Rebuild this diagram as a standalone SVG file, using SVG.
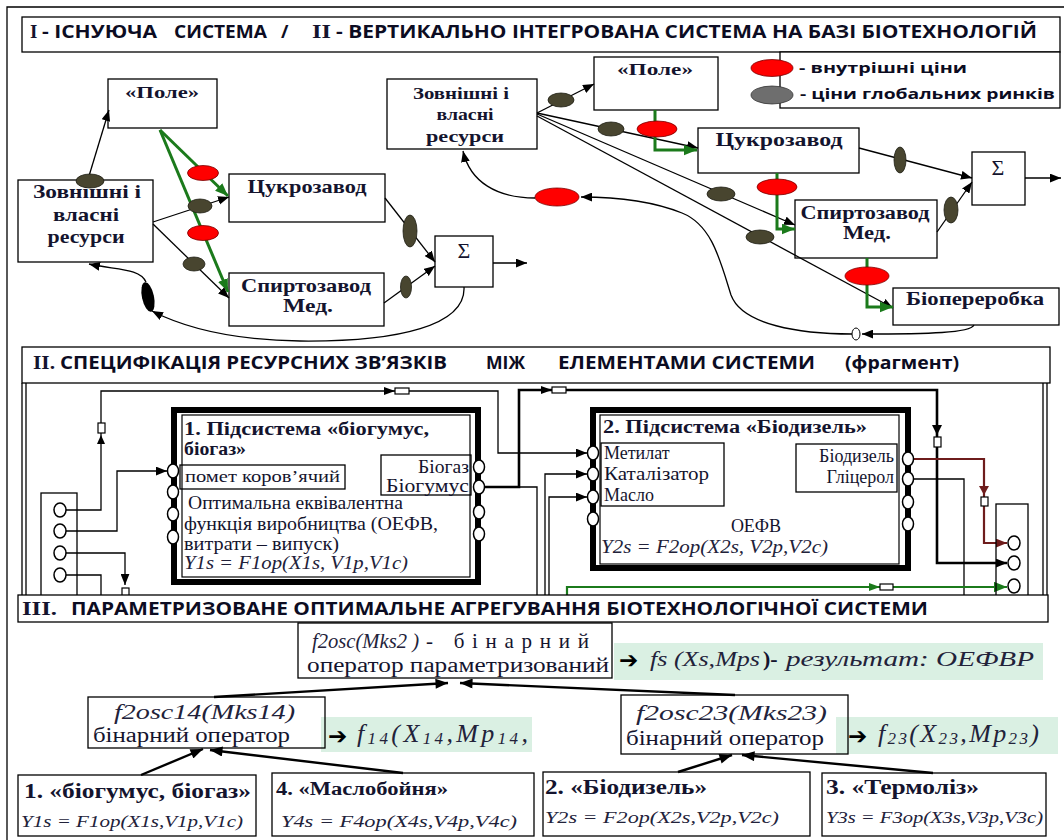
<svg xmlns="http://www.w3.org/2000/svg" width="1064" height="840" viewBox="0 0 1064 840">
<defs>
<style>
.bx{fill:#fff;stroke:#000;stroke-width:1.3}
.bxn{fill:none;stroke:#000;stroke-width:1.3}
.sb{font-family:"Liberation Serif","DejaVu Serif",serif;font-weight:bold;fill:#14142e}
.sr{font-family:"Liberation Serif","DejaVu Serif",serif;fill:#14142e}
.si{font-family:"Liberation Serif","DejaVu Serif",serif;font-style:italic;fill:#22223a}
.hb{font-family:"Open Sans","Noto Sans","DejaVu Sans",sans-serif;font-weight:bold;fill:#0c0c22}
.ar{font-family:"DejaVu Sans",sans-serif;font-weight:bold;fill:#000}
.ln{fill:none;stroke:#000;stroke-width:1.3}
.lnt{fill:none;stroke:#000;stroke-width:2.6}
.lnb{fill:none;stroke:#000;stroke-width:2.4}
.gr{fill:none;stroke:#1b7a1b;stroke-width:3}
.grt{fill:none;stroke:#1b7a1b;stroke-width:2.2}
.brn{fill:none;stroke:#6e1c1c;stroke-width:2.2}
.red{fill:#ff0000;stroke:#7a0000;stroke-width:0.8}
.dk{fill:#48452f;stroke:#1e1e14;stroke-width:0.8}
.port{fill:#fff;stroke:#000;stroke-width:1.5}
.tag{fill:#fff;stroke:#000;stroke-width:1.2}
.band{fill:#daf0e3}
</style>
<marker id="ab" viewBox="0 0 10 8" refX="10" refY="4" markerWidth="11" markerHeight="9" markerUnits="userSpaceOnUse" orient="auto"><path d="M0,0 L10,4 L0,8 z" fill="#000"/></marker>
<marker id="abL" viewBox="0 0 10 8" refX="10" refY="4" markerWidth="14" markerHeight="10" markerUnits="userSpaceOnUse" orient="auto"><path d="M0,0 L10,4 L0,8 z" fill="#000"/></marker>
<marker id="ag" viewBox="0 0 10 8" refX="10" refY="4" markerWidth="13" markerHeight="11" markerUnits="userSpaceOnUse" orient="auto"><path d="M0,0 L10,4 L0,8 z" fill="#1b7a1b"/></marker>
<marker id="abr" viewBox="0 0 10 8" refX="10" refY="4" markerWidth="11" markerHeight="9" markerUnits="userSpaceOnUse" orient="auto"><path d="M0,0 L10,4 L0,8 z" fill="#6e1c1c"/></marker>
</defs>
<rect x="0" y="0" width="1064" height="840" fill="#fff"/>

<g id="frame">
<path d="M7,840 V7 H1064" class="ln"/>
<rect class="bx" x="22" y="17" width="1038" height="35"/>
<text class="sb" x="30" y="38" font-size="19">I</text>
<text class="hb" x="42" y="38" font-size="18" textLength="115" lengthAdjust="spacingAndGlyphs">- ІСНУЮЧА</text>
<text class="hb" x="174" y="38" font-size="18" textLength="93" lengthAdjust="spacingAndGlyphs">СИСТЕМА</text>
<text class="hb" x="281" y="38" font-size="18">/</text>
<text class="sb" x="312" y="38" font-size="19" textLength="19" lengthAdjust="spacingAndGlyphs">II</text>
<text class="hb" x="336" y="38" font-size="18" textLength="701" lengthAdjust="spacingAndGlyphs">- ВЕРТИКАЛЬНО ІНТЕГРОВАНА СИСТЕМА НА БАЗІ БІОТЕХНОЛОГІЙ</text>
</g>

<g id="legend">
<rect class="bx" x="780" y="52" width="280" height="56"/>
<ellipse class="red" cx="772" cy="68" rx="21" ry="8.5"/>
<ellipse cx="772" cy="95" rx="21" ry="9" fill="#6e6e6e" stroke="#333" stroke-width="0.8"/>
<text class="hb" x="799" y="73" font-size="15" textLength="168" lengthAdjust="spacingAndGlyphs">-  внутрішні ціни</text>
<text class="hb" x="800" y="99" font-size="15" textLength="255" lengthAdjust="spacingAndGlyphs">- ціни глобальних ринків</text>
</g>

<!-- Section I : existing system -->
<g id="n-pole-1"><rect class="bx" x="108" y="79" width="109" height="49"/><text class="sb" x="162" y="98" font-size="17" text-anchor="middle" textLength="74" lengthAdjust="spacingAndGlyphs">«Поле»</text></g>
<g id="n-res-1"><rect class="bx" x="18" y="180" width="135" height="82"/>
<text class="sb" x="87" y="198" font-size="19" text-anchor="middle" textLength="108" lengthAdjust="spacingAndGlyphs">Зовнішні  і</text>
<text class="sb" x="86" y="221" font-size="19" text-anchor="middle" textLength="66" lengthAdjust="spacingAndGlyphs">власні</text>
<text class="sb" x="86" y="243" font-size="19" text-anchor="middle" textLength="77" lengthAdjust="spacingAndGlyphs">ресурси</text></g>
<g id="n-sugar-1"><rect class="bx" x="229" y="174" width="156" height="48"/><text class="sb" x="307" y="193" font-size="19" text-anchor="middle" textLength="119" lengthAdjust="spacingAndGlyphs">Цукрозавод</text></g>
<g id="n-spirit-1"><rect class="bx" x="229" y="273" width="155" height="53"/>
<text class="sb" x="306" y="292" font-size="19" text-anchor="middle" textLength="130" lengthAdjust="spacingAndGlyphs">Спиртозавод</text>
<text class="sb" x="308" y="312" font-size="19" text-anchor="middle" textLength="50" lengthAdjust="spacingAndGlyphs">Мед.</text></g>
<g id="n-sum-1"><rect class="bx" x="435" y="236" width="58" height="51"/><text class="sr" x="464" y="258" font-size="22" text-anchor="middle">Σ</text></g>

<!-- Section I : integrated system -->
<g id="n-res-2"><rect class="bx" x="387" y="79" width="150" height="70"/>
<text class="sb" x="461" y="99" font-size="17" text-anchor="middle" textLength="96" lengthAdjust="spacingAndGlyphs">Зовнішні і</text>
<text class="sb" x="465" y="120" font-size="17" text-anchor="middle" textLength="57" lengthAdjust="spacingAndGlyphs">власні</text>
<text class="sb" x="465" y="142" font-size="17" text-anchor="middle" textLength="78" lengthAdjust="spacingAndGlyphs">ресурси</text></g>
<g id="n-pole-2"><rect class="bx" x="594" y="57" width="124" height="53"/><text class="sb" x="655" y="75" font-size="16" text-anchor="middle" textLength="76" lengthAdjust="spacingAndGlyphs">«Поле»</text></g>
<g id="n-sugar-2"><rect class="bx" x="698" y="128" width="161" height="45"/><text class="sb" x="779" y="146" font-size="18" text-anchor="middle" textLength="127" lengthAdjust="spacingAndGlyphs">Цукрозавод</text></g>
<g id="n-spirit-2"><rect class="bx" x="795" y="200" width="142" height="58"/>
<text class="sb" x="865" y="219" font-size="18" text-anchor="middle" textLength="129" lengthAdjust="spacingAndGlyphs">Спиртозавод</text>
<text class="sb" x="867" y="239" font-size="18" text-anchor="middle" textLength="48" lengthAdjust="spacingAndGlyphs">Мед.</text></g>
<g id="n-bio-2"><rect class="bx" x="893" y="288" width="166" height="37"/><text class="sb" x="975" y="305" font-size="18" text-anchor="middle" textLength="138" lengthAdjust="spacingAndGlyphs">Біопереробка</text></g>
<g id="n-sum-2"><rect class="bx" x="972" y="152" width="53" height="53"/><text class="sr" x="998" y="175" font-size="22" text-anchor="middle">Σ</text></g>

<g id="connectors-1">
<path class="ln" d="M89,176 L109,110" marker-end="url(#ab)"/>
<ellipse class="dk" cx="90" cy="181" rx="14" ry="7"/>
<path class="gr" d="M160,130 L228,196" marker-end="url(#ag)"/>
<path class="gr" d="M160,130 L228,292" marker-end="url(#ag)"/>
<path class="ln" d="M153,222 L229,197" marker-end="url(#ab)"/>
<path class="ln" d="M153,224 L229,298" marker-end="url(#ab)"/>
<ellipse class="red" cx="203" cy="173" rx="15.5" ry="7.5"/>
<ellipse class="red" cx="203" cy="233" rx="15.5" ry="7.5"/>
<ellipse class="dk" cx="200" cy="206" rx="12" ry="7"/>
<ellipse class="dk" cx="194" cy="264" rx="11" ry="7"/>
<path class="ln" d="M385,198 L435,262" marker-end="url(#ab)"/>
<path class="ln" d="M384,303 L435,266" marker-end="url(#ab)"/>
<ellipse class="dk" cx="410" cy="231" rx="7" ry="16"/>
<ellipse class="dk" cx="406" cy="287" rx="5.5" ry="11"/>
<path class="ln" d="M493,263 H527" marker-end="url(#ab)"/>
<path class="ln" d="M464,287 C466,325 400,342 300,341 C232,340 185,328 152,311" marker-end="url(#ab)"/>
<ellipse cx="148" cy="297" rx="6" ry="15" fill="#000" transform="rotate(-12 148 297)"/>
<path class="ln" d="M146,282 C140,268 116,270 89,264" marker-end="url(#ab)"/>
<path class="ln" d="M537,113 L594,84" marker-end="url(#ab)"/>
<path class="ln" d="M537,113 L698,148" marker-end="url(#ab)"/>
<path class="ln" d="M537,114 L795,225" marker-end="url(#ab)"/>
<path class="ln" d="M537,116 L893,308" marker-end="url(#ab)"/>
<ellipse class="dk" cx="561" cy="100" rx="13" ry="7"/>
<ellipse class="dk" cx="611" cy="129" rx="13" ry="7"/>
<ellipse class="dk" cx="721" cy="194" rx="14" ry="7"/>
<ellipse class="dk" cx="760" cy="237" rx="14" ry="7"/>
<path class="gr" d="M655,110 V150 H697" marker-end="url(#ag)"/>
<path class="gr" d="M777,173 V229 H795" marker-end="url(#ag)"/>
<path class="gr" d="M867,258 V307 H893" marker-end="url(#ag)"/>
<ellipse class="red" cx="657" cy="129" rx="20" ry="8"/>
<ellipse class="red" cx="777" cy="187" rx="20" ry="8"/>
<ellipse class="red" cx="867" cy="276" rx="22" ry="9"/>
<path class="ln" d="M859,148 L972,178" marker-end="url(#ab)"/>
<path class="ln" d="M937,232 L972,182" marker-end="url(#ab)"/>
<ellipse class="dk" cx="900" cy="160" rx="6" ry="13"/>
<ellipse class="dk" cx="951" cy="210" rx="7" ry="13"/>
<path class="ln" d="M1025,178 H1061" marker-end="url(#ab)"/>
<path class="ln" d="M974,325 C970,333 930,334 862,334" marker-end="url(#ab)"/>
<ellipse cx="856" cy="334" rx="4" ry="6" fill="#fff" stroke="#000" stroke-width="1"/>
<path class="ln" d="M852,334 C800,334 742,325 731,295 C720,260 712,225 682,213 C652,201 620,197 581,197" marker-end="url(#ab)"/>
<ellipse class="red" cx="557" cy="197" rx="22" ry="9"/>
<path class="ln" d="M535,198 C497,198 470,182 463,151" marker-end="url(#ab)"/>
</g>

<!-- Section II -->
<g id="title-2">
<rect class="bx" x="22" y="347" width="1028" height="36"/>
<text class="sb" x="33" y="369" font-size="18" textLength="22" lengthAdjust="spacingAndGlyphs">II.</text>
<text class="hb" x="60" y="369" font-size="17" textLength="387" lengthAdjust="spacingAndGlyphs">СПЕЦИФІКАЦІЯ РЕСУРСНИХ ЗВ’ЯЗКІВ</text>
<text class="hb" x="486" y="369" font-size="17" textLength="39" lengthAdjust="spacingAndGlyphs">МІЖ</text>
<text class="hb" x="558" y="369" font-size="17" textLength="257" lengthAdjust="spacingAndGlyphs">ЕЛЕМЕНТАМИ СИСТЕМИ</text>
<text class="hb" x="845" y="369" font-size="17" textLength="114" lengthAdjust="spacingAndGlyphs">(фрагмент)</text>
<path class="ln" d="M22,383 V597 M26,383 V597 M1043,383 V597 M1047,383 V597"/>
</g>

<g id="connectors-2">
<path class="ln" d="M66,510 H101 V391 H498 V453 H587" marker-end="url(#ab)"/>
<polygon points="101,435 97,444 105,444" fill="#000"/>
<rect class="tag" x="98" y="423" width="7" height="10"/>
<polygon points="395,391 384,387 384,395" fill="#000"/>
<rect class="tag" x="395" y="388" width="14" height="6"/>
<path class="ln" d="M66,531 H117 V471 H167" marker-end="url(#ab)"/>
<path class="ln" d="M66,553 H125 V585" marker-end="url(#ab)"/>
<rect class="tag" x="122" y="588" width="7" height="9"/>
<path class="ln" d="M66,575 H101 V600"/>
<path class="lnt" d="M484,487 H519 V390 H937 V563 H1007" marker-end="url(#ab)"/>
<polygon points="552,390 541,386 541,394" fill="#000"/>
<rect class="tag" x="552" y="387" width="14" height="6"/>
<polygon points="937,435 932,425 942,425" fill="#000"/>
<rect class="tag" x="934" y="437" width="7" height="10"/>
<path class="ln" d="M519,487 H537 V600"/>
<path class="ln" d="M545,600 V474 H587" marker-end="url(#ab)"/>
<path class="ln" d="M549,600 V497 H587" marker-end="url(#ab)"/>
<path class="brn" d="M913,459 H984 V543 H1007" marker-end="url(#abr)"/>
<polygon points="984,495 979,486 989,486" fill="#6e1c1c"/>
<rect class="tag" x="981" y="497" width="7" height="9"/>
<path class="ln" d="M913,479 H964 V600"/>
<path class="grt" d="M567,600 V587 H1007" marker-end="url(#ag)"/>
<polygon points="880,587 869,583 869,591" fill="#1b7a1b"/>
<rect class="tag" x="880" y="584" width="13" height="6"/>
</g>

<g id="n-inputs">
<rect class="bxn" x="41" y="493" width="36" height="107"/>
<ellipse class="port" cx="60" cy="510" rx="6" ry="7"/>
<ellipse class="port" cx="60" cy="531" rx="6" ry="7"/>
<ellipse class="port" cx="60" cy="553" rx="6" ry="7"/>
<ellipse class="port" cx="60" cy="575" rx="6" ry="7"/>
</g>

<g id="n-sub1">
<rect x="174" y="410" width="304" height="172" fill="#fff" stroke="#000" stroke-width="6"/>
<rect x="182" y="415" width="288" height="162" fill="none" stroke="#000" stroke-width="1.2"/>
<text class="sb" x="184" y="435" font-size="18" textLength="245" lengthAdjust="spacingAndGlyphs">1. Підсистема  «біогумус,</text>
<text class="sb" x="184" y="455" font-size="18" textLength="62" lengthAdjust="spacingAndGlyphs">біогаз»</text>
<rect class="bxn" x="180" y="465" width="165" height="24"/>
<text class="sr" x="185" y="482" font-size="17" textLength="155" lengthAdjust="spacingAndGlyphs">помет коров’ячий</text>
<rect class="bxn" x="381" y="455" width="90" height="40"/>
<text class="sr" x="469" y="473" font-size="18" text-anchor="end" textLength="51" lengthAdjust="spacingAndGlyphs">Біогаз</text>
<text class="sr" x="469" y="492" font-size="18" text-anchor="end" textLength="83" lengthAdjust="spacingAndGlyphs">Біогумус</text>
<text class="sr" x="188" y="509" font-size="18" textLength="215" lengthAdjust="spacingAndGlyphs">Оптимальна еквівалентна</text>
<text class="sr" x="184" y="530" font-size="18" textLength="254" lengthAdjust="spacingAndGlyphs">функція виробництва (ОЕФВ,</text>
<text class="sr" x="184" y="550" font-size="18" textLength="155" lengthAdjust="spacingAndGlyphs">витрати – випуск)</text>
<text class="si" x="184" y="569" font-size="18" textLength="224" lengthAdjust="spacingAndGlyphs">Y1s = F1op(X1s, V1p,V1c)</text>
<ellipse class="port" cx="173" cy="471" rx="5.5" ry="7"/>
<ellipse class="port" cx="173" cy="492" rx="5.5" ry="7"/>
<ellipse class="port" cx="173" cy="514" rx="5.5" ry="7"/>
<ellipse class="port" cx="173" cy="537" rx="5.5" ry="7"/>
<ellipse class="port" cx="479" cy="467" rx="5.5" ry="7"/>
<ellipse class="port" cx="479" cy="487" rx="5.5" ry="7"/>
<ellipse class="port" cx="479" cy="512" rx="5.5" ry="7"/>
<ellipse class="port" cx="479" cy="534" rx="5.5" ry="7"/>
</g>

<g id="n-sub2">
<rect x="593" y="410" width="315" height="158" fill="#fff" stroke="#000" stroke-width="6"/>
<rect x="600" y="415" width="299" height="149" fill="none" stroke="#000" stroke-width="1.2"/>
<text class="sb" x="603" y="433" font-size="18" textLength="264" lengthAdjust="spacingAndGlyphs">2. Підсистема  «Біодизель»</text>
<rect class="bxn" x="601" y="443" width="123" height="63"/>
<text class="sr" x="604" y="459" font-size="18">Метилат</text>
<text class="sr" x="604" y="480" font-size="18" textLength="105" lengthAdjust="spacingAndGlyphs">Каталізатор</text>
<text class="sr" x="604" y="501" font-size="18">Масло</text>
<rect class="bxn" x="796" y="444" width="101" height="48"/>
<text class="sr" x="894" y="462" font-size="18" text-anchor="end">Біодизель</text>
<text class="sr" x="894" y="483" font-size="18" text-anchor="end">Гліцерол</text>
<text class="sr" x="756" y="532" font-size="18" text-anchor="middle">ОЕФВ</text>
<text class="si" x="601" y="553" font-size="18" textLength="227" lengthAdjust="spacingAndGlyphs">Y2s = F2op(X2s, V2p,V2c)</text>
<ellipse class="port" cx="593" cy="453" rx="5.5" ry="7"/>
<ellipse class="port" cx="593" cy="474" rx="5.5" ry="7"/>
<ellipse class="port" cx="593" cy="497" rx="5.5" ry="7"/>
<ellipse class="port" cx="593" cy="519" rx="5.5" ry="7"/>
<ellipse class="port" cx="908" cy="459" rx="5.5" ry="7"/>
<ellipse class="port" cx="908" cy="479" rx="5.5" ry="7"/>
<ellipse class="port" cx="908" cy="502" rx="5.5" ry="7"/>
<ellipse class="port" cx="908" cy="524" rx="5.5" ry="7"/>
</g>

<g id="n-outputs">
<rect class="bxn" x="996" y="504" width="32" height="96"/>
<ellipse class="port" cx="1014" cy="543" rx="6" ry="7"/>
<ellipse class="port" cx="1014" cy="563" rx="6" ry="7"/>
<ellipse class="port" cx="1014" cy="586" rx="6" ry="7"/>
</g>

<!-- Section III -->
<g id="title-3">
<rect class="bx" x="18" y="595" width="1030" height="27"/>
<text class="sb" x="22" y="615" font-size="18" textLength="35" lengthAdjust="spacingAndGlyphs">III.</text>
<text class="hb" x="71" y="615" font-size="17" textLength="857" lengthAdjust="spacingAndGlyphs">ПАРАМЕТРИЗОВАНЕ ОПТИМАЛЬНЕ АГРЕГУВАННЯ БІОТЕХНОЛОГІЧНОЇ СИСТЕМИ</text>
</g>

<g id="n-f2osc">
<rect class="bx" x="298" y="623" width="314" height="55"/>
<text class="si" x="312" y="648" font-size="22" textLength="107" lengthAdjust="spacingAndGlyphs">f2osc(Mks2 )</text>
<text class="sr" x="426" y="648" font-size="21" textLength="163" lengthAdjust="spacing">- бінарний</text>
<text class="sr" x="307" y="672" font-size="20" textLength="302" lengthAdjust="spacingAndGlyphs">оператор параметризований</text>
</g>
<g id="r-fs">
<rect class="band" x="614" y="643" width="429" height="37"/>
<text class="ar" x="619" y="668" font-size="23">➔</text>
<text class="si" x="650" y="666" font-size="22" textLength="110" lengthAdjust="spacingAndGlyphs">fs (Xs,Mps</text>
<text class="sb" x="763" y="666" font-size="22">)-</text>
<text class="si" x="786" y="666" font-size="22" textLength="248" lengthAdjust="spacingAndGlyphs">результат: ОЕФВР</text>
</g>

<g id="r-f14">
<rect class="band" x="321" y="717" width="211" height="35"/>
<text class="ar" x="328" y="744" font-size="23">➔</text>
<text class="si" x="357" y="742" font-size="26" textLength="171" lengthAdjust="spacing">f<tspan font-size="17" dy="2">14</tspan><tspan dy="-2">(X</tspan><tspan font-size="17" dy="2">14</tspan><tspan dy="-2">,Mp</tspan><tspan font-size="17" dy="2">14</tspan><tspan dy="-2">,</tspan></text>
</g>
<g id="n-f2osc14">
<rect class="bxn" x="88" y="697" width="237" height="51"/>
<text class="si" x="114" y="719" font-size="22" textLength="181" lengthAdjust="spacingAndGlyphs">f2osc14(Mks14)</text>
<text class="sr" x="93" y="742" font-size="20" textLength="197" lengthAdjust="spacingAndGlyphs">бінарний оператор</text>
</g>

<g id="r-f23">
<rect class="band" x="836" y="717" width="222" height="37"/>
<text class="ar" x="848" y="744" font-size="23">➔</text>
<text class="si" x="878" y="742" font-size="26" textLength="161" lengthAdjust="spacing">f<tspan font-size="17" dy="2">23</tspan><tspan dy="-2">(X</tspan><tspan font-size="17" dy="2">23</tspan><tspan dy="-2">,Mp</tspan><tspan font-size="17" dy="2">23</tspan><tspan dy="-2">)</tspan></text>
</g>
<g id="n-f2osc23">
<rect class="bxn" x="621" y="695" width="227" height="59"/>
<text class="si" x="636" y="720" font-size="22" textLength="191" lengthAdjust="spacingAndGlyphs">f2osc23(Mks23)</text>
<text class="sr" x="626" y="745" font-size="20" textLength="198" lengthAdjust="spacingAndGlyphs">бінарний оператор</text>
</g>

<g id="n-b1">
<rect class="bx" x="18" y="775" width="238" height="61"/>
<text class="sb" x="24" y="798" font-size="20" textLength="227" lengthAdjust="spacingAndGlyphs">1. «біогумус, біогаз»</text>
<text class="si" x="21" y="827" font-size="17" textLength="222" lengthAdjust="spacingAndGlyphs">Y1s = F1op(X1s,V1p,V1c)</text>
</g>
<g id="n-b4">
<rect class="bx" x="272" y="773" width="262" height="63"/>
<text class="sb" x="276" y="795" font-size="18" textLength="172" lengthAdjust="spacingAndGlyphs">4. «Маслобойня»</text>
<text class="si" x="281" y="827" font-size="17" textLength="236" lengthAdjust="spacingAndGlyphs">Y4s  = F4op(X4s,V4p,V4c)</text>
</g>
<g id="n-b2">
<rect class="bx" x="543" y="772" width="267" height="64"/>
<text class="sb" x="545" y="794" font-size="20" textLength="162" lengthAdjust="spacingAndGlyphs">2. «Біодизель»</text>
<text class="si" x="545" y="823" font-size="17" textLength="234" lengthAdjust="spacingAndGlyphs">Y2s = F2op(X2s,V2p,V2c)</text>
</g>
<g id="n-b3">
<rect class="bx" x="822" y="773" width="224" height="63"/>
<text class="sb" x="826" y="794" font-size="20" textLength="153" lengthAdjust="spacingAndGlyphs">3. «Термоліз»</text>
<text class="si" x="826" y="823" font-size="17" textLength="217" lengthAdjust="spacingAndGlyphs">Y3s = F3op(X3s,V3p,V3c)</text>
</g>

<g id="connectors-3">
<path class="lnb" d="M141,775 L203,749" marker-end="url(#abL)"/>
<path class="lnb" d="M403,773 L210,750" marker-end="url(#abL)"/>
<path class="lnb" d="M214,697 L448,683" marker-end="url(#abL)"/>
<path class="lnb" d="M735,695 L460,683" marker-end="url(#abL)"/>
<path class="lnb" d="M678,772 L732,755" marker-end="url(#abL)"/>
<path class="lnb" d="M933,773 L742,755" marker-end="url(#abL)"/>
</g>
</svg>
